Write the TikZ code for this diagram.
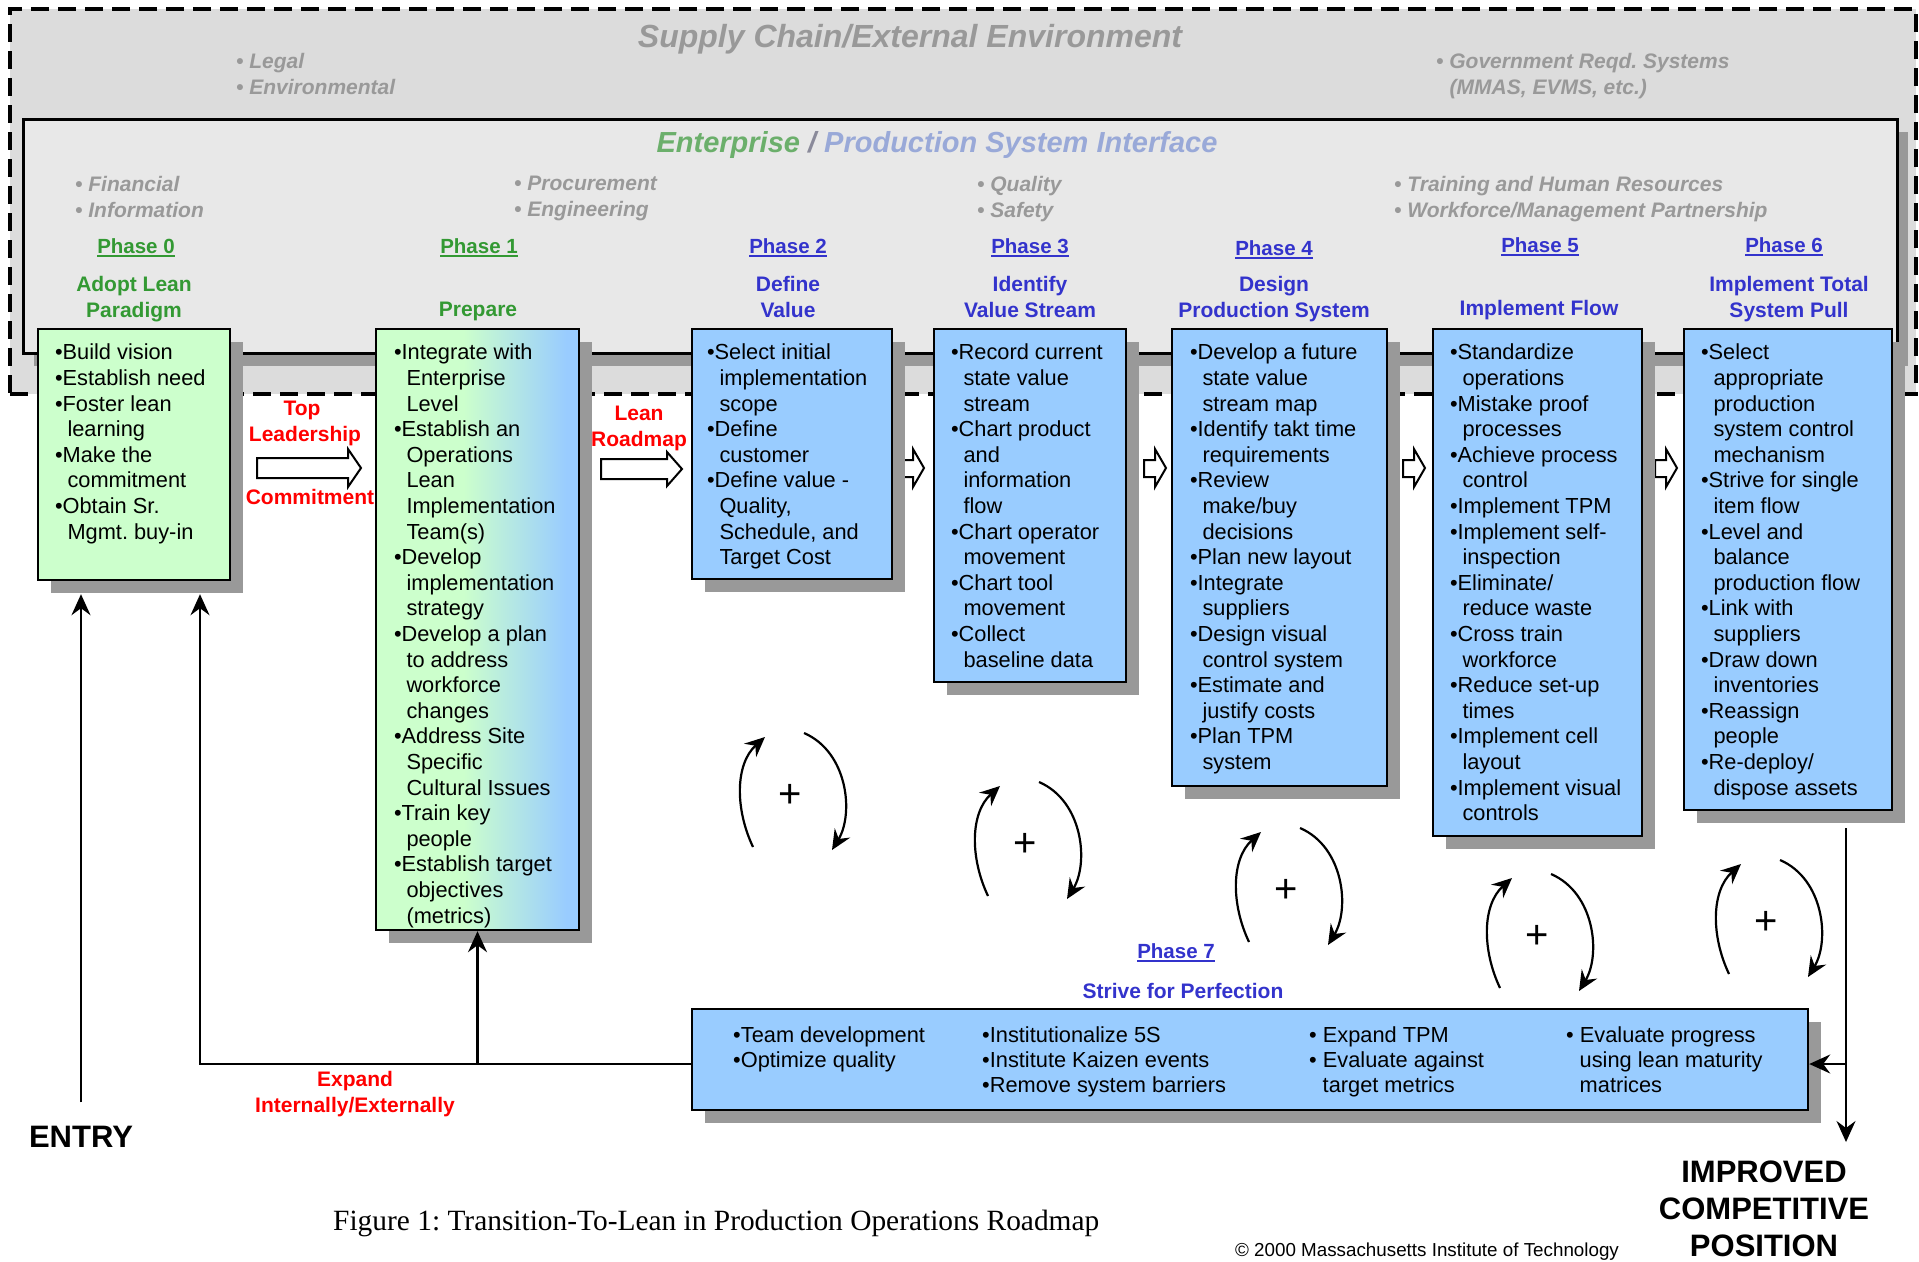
\documentclass[tikz,border=0pt]{standalone}
\usepackage{fontspec}
\setmainfont{Liberation Sans}
\newfontfamily\capserif{Liberation Serif}
\usetikzlibrary{arrows.meta,shadows}
\definecolor{outerfill}{HTML}{DCDCDC}
\definecolor{innerfill}{HTML}{E8E8E8}
\definecolor{shadowgray}{HTML}{999999}
\definecolor{boxgreen}{HTML}{CCFFCC}
\definecolor{boxblue}{HTML}{99CCFF}
\definecolor{phgreen}{HTML}{339933}
\definecolor{phblue}{HTML}{3333CC}
\definecolor{envgray}{HTML}{999999}
\definecolor{entgreen}{HTML}{6BAF6B}
\definecolor{prodblue}{HTML}{99A9D8}
\definecolor{slashgray}{HTML}{8A8A9A}
\definecolor{lblred}{HTML}{FF0000}
\newcommand{\fs}[2]{\fontsize{#1}{#2}\selectfont}
\newcommand{\ci}{\hspace*{12.5pt}}
\newcommand{\cj}{\hspace*{13.5pt}}
\newcommand{\phul}[1]{\setbox0\hbox{#1}\rlap{\rule[-3.8pt]{\wd0}{1.6pt}}\box0}
\pgfdeclarehorizontalshading{prepshade}{100bp}{color(0bp)=(boxgreen); color(25bp)=(boxgreen); color(46.5bp)=(boxgreen); color(72bp)=(boxblue); color(100bp)=(boxblue)}
\frenchspacing
\begin{document}
\begin{tikzpicture}[x=1pt,y=-1pt,
  shd/.style={drop shadow={shadow xshift=13pt,shadow yshift=-13pt,opacity=1,fill=shadowgray}},
  stepbox/.style={draw=black,line width=2.4pt,inner sep=0,shd},
  btxt/.style={anchor=north west,inner sep=0,align=left,font={\fs{21.8}{25.6}}},
  envtxt/.style={anchor=north west,inner sep=0,align=left,text=envgray,font={\fs{21}{26}\bfseries\itshape}},
  phlab/.style={anchor=base,inner sep=0,font={\fs{20.5}{24}\bfseries}},
  ttl/.style={anchor=north,inner sep=0,align=center,font={\fs{21}{26}\bfseries}},
  redlab/.style={anchor=base,inner sep=0,text=lblred,font={\fs{21}{26}\bfseries}},
  conn/.style={line width=2.2pt},
  conn2/.style={line width=1.8pt},
  tip/.style={-{Stealth[length=21pt,width=19pt,inset=7pt]}},
  hollow/.style={draw=black,fill=white,line width=2pt,line join=miter},
  cyca/.style={line width=2.2pt,-{Stealth[length=20pt,width=18pt,inset=7pt]}},
  plus/.style={inner sep=0,font={\fs{40}{40}}},
  big/.style={inner sep=0,font={\fs{31}{37}\bfseries}},
  cyc/.pic={
    \draw[cyca] (-37,53) .. controls (-55,15) and (-55,-30) .. (-25,-57);
    \draw[cyca] (14,-61) .. controls (58,-42) and (64,20) .. (42,56);
    \node[plus] (-p) at (0,2) {+};
  }
]
\useasboundingbox (0,0) rectangle (1919,1261);
\fill[white] (0,0) rectangle (1919,1261);

% supply chain / external environment
\node[draw=black,fill=outerfill,line width=3.2pt,dash pattern=on 18pt off 9pt,inner sep=0,minimum width=1906pt,minimum height=385pt] (env) at (963,201.5) {};
\node[anchor=base,inner sep=0,text=envgray,font={\fs{32}{36}\bfseries\itshape}] (scenv) at (910,47) {Supply Chain/External Environment};
\node[envtxt] (legal) at (236,53) {• Legal\\• Environmental};
\node[envtxt] (gov) at (1436,53) {• Government Reqd. Systems\\\cj(MMAS, EVMS, etc.)};

% enterprise interface
\node[draw=black,fill=innerfill,line width=3pt,inner sep=0,minimum width=1874pt,minimum height=234pt,drop shadow={shadow xshift=11pt,shadow yshift=-13pt,opacity=1,fill=shadowgray}] (ent) at (960,236) {};
\node[anchor=base,inner sep=0,font={\fs{29}{32}\bfseries\itshape}] (entt) at (937,152) {\textcolor{entgreen}{Enterprise} \textcolor{slashgray}{/} \textcolor{prodblue}{Production System Interface}};
\node[envtxt] (fin) at (75,176) {• Financial\\• Information};
\node[envtxt] (proc) at (514,176) {• Procurement\\• Engineering};
\node[envtxt] (qual) at (977,176) {• Quality\\• Safety};
\node[envtxt] (train) at (1394,176) {• Training and Human Resources\\• Workforce/Management Partnership};

% phase labels and titles
\node[phlab,text=phgreen] (ph0) at (136,253) {\phul{Phase 0}};
\node[phlab,text=phgreen] (ph1) at (479,253) {\phul{Phase 1}};
\node[phlab,text=phblue] (ph2) at (788,253) {\phul{Phase 2}};
\node[phlab,text=phblue] (ph3) at (1030,253) {\phul{Phase 3}};
\node[phlab,text=phblue] (ph4) at (1274,255) {\phul{Phase 4}};
\node[phlab,text=phblue] (ph5) at (1540,252) {\phul{Phase 5}};
\node[phlab,text=phblue] (ph6) at (1784,252) {\phul{Phase 6}};
\node[ttl,text=phgreen] (t0) at (134,276) {Adopt Lean\\Paradigm};
\node[ttl,text=phgreen] (t1) at (478,302) {Prepare};
\node[ttl,text=phblue] (t2) at (788,276) {Define\\Value};
\node[ttl,text=phblue] (t3) at (1030,276) {Identify\\Value Stream};
\node[ttl,text=phblue] (t4) at (1274,276) {Design\\Production System};
\node[ttl,text=phblue] (t5) at (1539,300) {Implement Flow};
\node[ttl,text=phblue] (t6) at (1789,276) {Implement Total\\System Pull};

% hollow arrows between phases
\draw[hollow] (257,458) -- (348,458) -- (348,449) -- (361,468) -- (348,487) -- (348,478) -- (257,478) -- cycle;
\draw[hollow] (601,459) -- (667,459) -- (667,452) -- (682,469) -- (667,486) -- (667,479) -- (601,479) -- cycle;
\foreach \xa in {902,1144,1403,1655}
  \draw[hollow] (\xa,460) -- (\xa+11,460) -- (\xa+11,449) -- (\xa+22,468) -- (\xa+11,487) -- (\xa+11,477) -- (\xa,477) -- cycle;

% phase boxes
\node[stepbox,fill=boxgreen,minimum width=192pt,minimum height=251pt] (b0) at (134,454.5) {};
\node[stepbox,shade,shading=prepshade,minimum width=203pt,minimum height=601pt] (b1) at (477.5,629.5) {};
\node[stepbox,fill=boxblue,minimum width=200pt,minimum height=250pt] (b2) at (792,454) {};
\node[stepbox,fill=boxblue,minimum width=192pt,minimum height=353pt] (b3) at (1030,505.5) {};
\node[stepbox,fill=boxblue,minimum width=215pt,minimum height=457pt] (b4) at (1279.5,557.5) {};
\node[stepbox,fill=boxblue,minimum width=209pt,minimum height=507pt] (b5) at (1537.5,582.5) {};
\node[stepbox,fill=boxblue,minimum width=208pt,minimum height=481pt] (b6) at (1788,569.5) {};
\node[stepbox,fill=boxblue,minimum width=1116pt,minimum height=101pt] (b7) at (1250,1059.5) {};

\node[btxt] (b0t) at ([shift={(18,16)}]b0.north west) {•Build vision\\•Establish need\\•Foster lean\\\ci learning\\•Make the\\\ci commitment\\•Obtain Sr.\\\ci Mgmt. buy-in};
\node[btxt] (b1t) at ([shift={(19,16)}]b1.north west) {•Integrate with\\\ci Enterprise\\\ci Level\\•Establish an\\\ci Operations\\\ci Lean\\\ci Implementation\\\ci Team(s)\\•Develop\\\ci implementation\\\ci strategy\\•Develop a plan\\\ci to address\\\ci workforce\\\ci changes\\•Address Site\\\ci Specific\\\ci Cultural Issues\\•Train key\\\ci people\\•Establish target\\\ci objectives\\\ci (metrics)};
\node[btxt] (b2t) at ([shift={(16,16)}]b2.north west) {•Select initial\\\ci implementation\\\ci scope\\•Define\\\ci customer\\•Define value -\\\ci Quality,\\\ci Schedule, and\\\ci Target Cost};
\node[btxt] (b3t) at ([shift={(18,16)}]b3.north west) {•Record current\\\ci state value\\\ci stream\\•Chart product\\\ci and\\\ci information\\\ci flow\\•Chart operator\\\ci movement\\•Chart tool\\\ci movement\\•Collect\\\ci baseline data};
\node[btxt] (b4t) at ([shift={(19,16)}]b4.north west) {•Develop a future\\\ci state value\\\ci stream map\\•Identify takt time\\\ci requirements\\•Review\\\ci make/buy\\\ci decisions\\•Plan new layout\\•Integrate\\\ci suppliers\\•Design visual\\\ci control system\\•Estimate and\\\ci justify costs\\•Plan TPM\\\ci system};
\node[btxt] (b5t) at ([shift={(18,16)}]b5.north west) {•Standardize\\\ci operations\\•Mistake proof\\\ci processes\\•Achieve process\\\ci control\\•Implement TPM\\•Implement self-\\\ci inspection\\•Eliminate/\\\ci reduce waste\\•Cross train\\\ci workforce\\•Reduce set-up\\\ci times\\•Implement cell\\\ci layout\\•Implement visual\\\ci controls};
\node[btxt] (b6t) at ([shift={(18,16)}]b6.north west) {•Select\\\ci appropriate\\\ci production\\\ci system control\\\ci mechanism\\•Strive for single\\\ci item flow\\•Level and\\\ci balance\\\ci production flow\\•Link with\\\ci suppliers\\•Draw down\\\ci inventories\\•Reassign\\\ci people\\•Re-deploy/\\\ci dispose assets};

% phase 7
\node[phlab,text=phblue] (ph7) at (1176,958) {\phul{Phase 7}};
\node[phlab,text=phblue,font={\fs{21}{26}\bfseries}] (t7) at (1183,998) {Strive for Perfection};
\node[btxt,font={\fs{21.8}{25}}] (c1) at (733,1026.5) {•Team development\\•Optimize quality};
\node[btxt,font={\fs{21.8}{25}}] (c2) at (982,1026.5) {•Institutionalize 5S\\•Institute Kaizen events\\•Remove system barriers};
\node[btxt,font={\fs{21.8}{25}}] (c3) at (1309,1026.5) {• Expand TPM\\• Evaluate against\\\cj target metrics};
\node[btxt,font={\fs{21.8}{25}}] (c4) at (1566,1026.5) {• Evaluate progress\\\cj using lean maturity\\\cj matrices};

% red labels
\node[redlab] (top) at (302,415) {Top};
\node[redlab] (lead) at (305,441) {Leadership};
\node[redlab] (comm) at (310,504) {Commitment};
\node[redlab] (lean) at (639,420) {Lean};
\node[redlab] (road) at (639,446) {Roadmap};
\node[redlab] (exp) at (355,1086) {Expand};
\node[redlab] (intl) at (355,1112) {Internally/Externally};

% entry / exit
\node[big,anchor=base] (entry) at (81,1147) {ENTRY};
\node[big,anchor=north,align=center] (imp) at (1764,1160.5) {IMPROVED\\COMPETITIVE\\POSITION};

% feedback connectors
\coordinate (b0bot) at ([yshift=-13pt]b0.south);
\coordinate (j1) at (477.5,1064);
\coordinate (j0) at (200,1064);
\coordinate (jr) at (1846,1064);
\coordinate (rtop) at (1846,828);
\coordinate (impin) at (1846,1142);
\draw[conn] (j1 -| b7.west) -- (j1);
\draw[conn,tip] (j1) -- (b1.south);
\draw[conn,tip] (j1) -- (j0) -- (j0 |- b0bot);
\draw[conn,tip] ([yshift=23pt]entry.north) -- (entry.north |- b0bot);
\draw[conn2] (rtop) -- (jr);
\draw[conn2,tip] (jr) -- (jr -| b7.east);
\draw[conn2,tip] (jr) -- (impin);

% improvement cycles
\pic (cy1) at (790,794) {cyc};
\pic (cy2) at (1025,843) {cyc};
\pic (cy3) at (1286,889) {cyc};
\pic (cy4) at (1537,935) {cyc};
\pic (cy5) at (1766,921) {cyc};

% caption
\node[anchor=base west,inner sep=0,font={\capserif\fs{29.4}{32}}] (cap) at (333,1230) {Figure 1: Transition-To-Lean in Production Operations Roadmap};
\node[anchor=base,inner sep=0,font={\fs{18.8}{20}}] (copy) at (1427,1256) {© 2000 Massachusetts Institute of Technology};
\end{tikzpicture}
\end{document}
